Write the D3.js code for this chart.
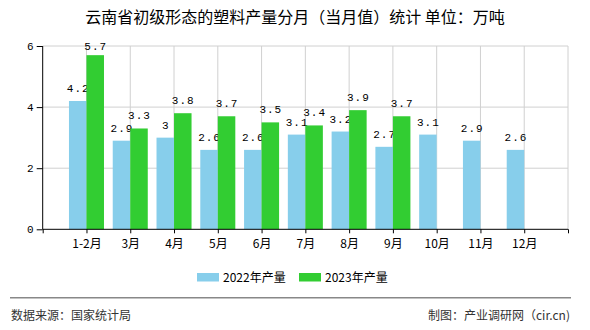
<!DOCTYPE html>
<html>
<head>
<meta charset="utf-8">
<script src="https://cdn.jsdelivr.net/npm/d3@7/dist/d3.min.js"></script>
<style>
html,body{margin:0;padding:0;background:#fff;}
svg{display:block;}
</style>
</head>
<body>
<svg id="chart" width="590" height="330"></svg>
<script>
const title = "云南省初级形态的塑料产量分月（当月值）统计 单位：万吨";
const categories = ["1-2月","3月","4月","5月","6月","7月","8月","9月","10月","11月","12月"];
const values2022 = [4.2, 2.9, 3, 2.6, 2.6, 3.1, 3.2, 2.7, 3.1, 2.9, 2.6];
const values2023 = [5.7, 3.3, 3.8, 3.7, 3.5, 3.4, 3.9, 3.7, null, null, null];
const seriesNames = ["2022年产量", "2023年产量"];
const colors = ["#87CEEB", "#32CD32"];
const yTicks = [0, 2, 4, 6];
const sourceText = "数据来源：国家统计局";
const creditText = "制图：产业调研网（cir.cn)";

const svg = d3.select("#chart");
const cjk = "'Noto Sans CJK SC', 'Noto Sans', sans-serif";
const mono = "'Liberation Mono', 'DejaVu Sans Mono', monospace";

const pL = 42.7, pR = 568, pT = 46, pB = 229.3;
const x = d3.scaleLinear().domain([0, categories.length + 1]).range([pL, pR]);
const y = d3.scaleLinear().domain([0, 6]).range([pB, pT]);
const step = x(1) - x(0);
const bw = step * 0.4;

// title
svg.append("text").attr("x", 295).attr("y", 23).attr("text-anchor", "middle")
  .style("white-space", "pre")
  .style("font-family", cjk).style("font-size", "16px").attr("fill", "#000").text(title);

// grid
const g = svg.append("g");
g.selectAll("line.hg").data(yTicks.filter(d => d > 0)).join("line")
  .attr("x1", pL).attr("x2", pR).attr("y1", d => y(d)).attr("y2", d => y(d))
  .attr("stroke", "#d0d0d0").attr("stroke-width", 1);
g.selectAll("line.vg").data(d3.range(1, categories.length + 2)).join("line")
  .attr("x1", d => x(d)).attr("x2", d => x(d)).attr("y1", pT).attr("y2", pB)
  .attr("stroke", "#d0d0d0").attr("stroke-width", 1);

// bars
const data = categories.map((c, i) => ({c, i, v: [values2022[i], values2023[i]]}));
[0, 1].forEach(s => {
  const vals = data.filter(d => d.v[s] != null);
  svg.append("g").selectAll("rect").data(vals).join("rect")
    .attr("x", d => x(d.i + 1) - bw + s * bw)
    .attr("width", bw)
    .attr("y", d => y(d.v[s]))
    .attr("height", d => y(0) - y(d.v[s]))
    .attr("fill", colors[s]);
  svg.append("g").selectAll("text").data(vals).join("text")
    .attr("x", d => x(d.i + 1) - bw / 2 + s * bw + 0.5)
    .attr("y", d => Math.max(y(d.v[s]) - 9, pT + 3.5))
    .attr("text-anchor", "middle")
    .style("letter-spacing", "1px")
    .style("font-family", mono).style("font-size", "11px").attr("fill", "#000")
    .text(d => String(d.v[s]));
});

// axes
const yAxis = d3.axisLeft(y).tickValues(yTicks).tickSize(6).tickPadding(3).tickFormat(d3.format("d"));
const ya = svg.append("g").attr("transform", `translate(${pL},0)`).call(yAxis);
ya.select(".domain").attr("stroke", "#000").attr("d", `M0,${pT}V${pB}`);
ya.selectAll(".tick line").attr("stroke", "#000");
ya.selectAll("text").style("font-family", mono).style("font-size", "11px").attr("fill", "#000");

const xAxis = d3.axisBottom(x).tickValues(d3.range(0, categories.length + 2)).tickSize(4).tickPadding(6)
  .tickFormat(d => (d >= 1 && d <= categories.length) ? categories[d - 1] : "");
const xa = svg.append("g").attr("transform", `translate(0,${pB})`).call(xAxis);
xa.select(".domain").attr("stroke", "#000").attr("d", `M${pL},0H${pR}`);
xa.selectAll(".tick line").attr("stroke", "#000");
xa.selectAll("text").style("font-family", cjk).style("font-size", "12px").attr("fill", "#000");

// legend
const lg = svg.append("g");
const legX = [197, 299];
seriesNames.forEach((n, i) => {
  lg.append("rect").attr("x", legX[i]).attr("y", 273).attr("width", 22).attr("height", 8.5).attr("fill", colors[i]);
  lg.append("text").attr("x", legX[i] + 26).attr("y", 282).style("font-family", cjk)
    .style("font-size", "12px").attr("fill", "#000").text(n);
});

// footer
svg.append("line").attr("x1", 10).attr("x2", 571).attr("y1", 297.7).attr("y2", 297.7)
  .attr("stroke", "#888").attr("stroke-width", 1.5);
svg.append("text").attr("x", 11).attr("y", 320).style("font-family", cjk).style("font-size", "12px")
  .attr("fill", "#333").text(sourceText);
svg.append("text").attr("x", 570).attr("y", 320).attr("text-anchor", "end").style("font-family", cjk)
  .style("font-size", "12px").attr("fill", "#333").text(creditText);
</script>
</body>
</html>
